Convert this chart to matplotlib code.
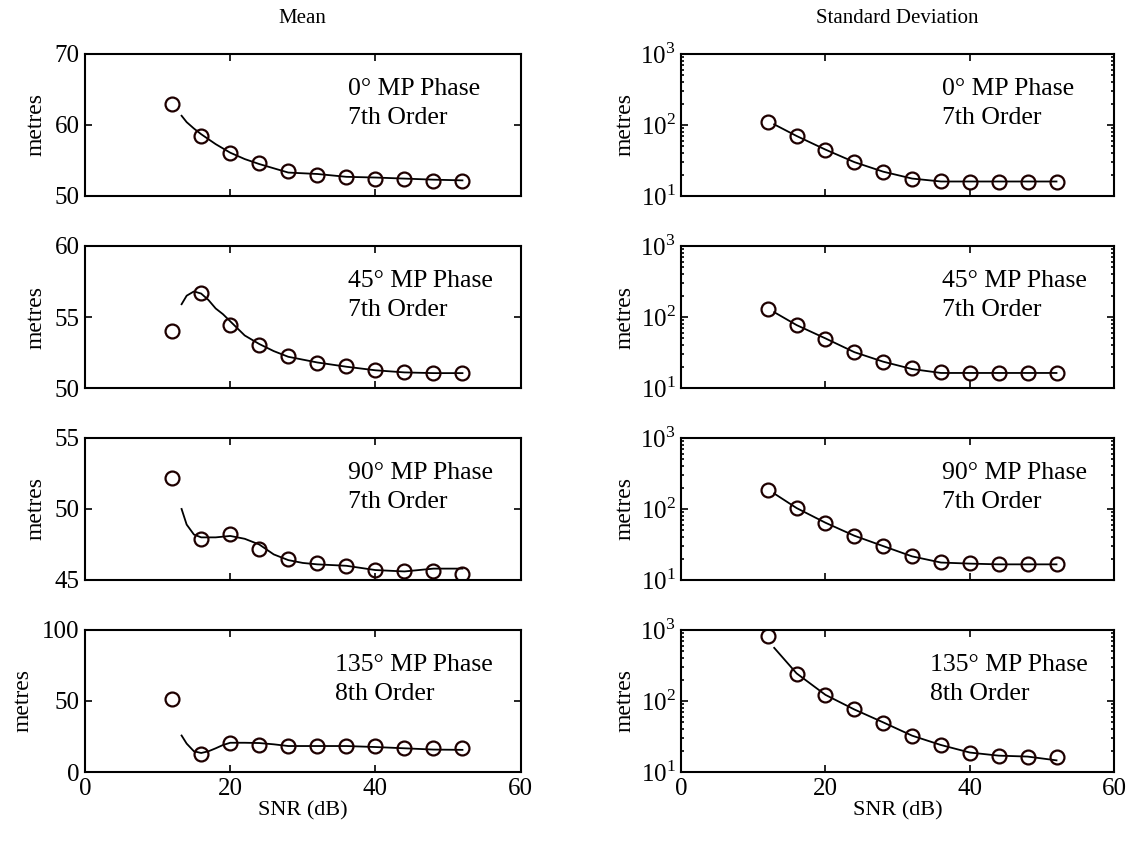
import matplotlib.pyplot as plt
import numpy as np

plt.rcParams['font.family'] = 'Liberation Serif'
plt.rcParams['mathtext.fontset'] = 'custom'
plt.rcParams['mathtext.rm'] = 'Liberation Serif'

# SNR points where the simulated results were taken
snr = [12, 16, 20, 24, 28, 32, 36, 40, 44, 48, 52]

labels = ["0\u00b0 MP Phase\n7th Order", "45\u00b0 MP Phase\n7th Order",
          "90\u00b0 MP Phase\n7th Order", "135\u00b0 MP Phase\n8th Order"]

# mean (simulated markers)
mean_0 = [62.9, 58.4, 56.1, 54.6, 53.5, 53.0, 52.7, 52.45, 52.45, 52.1, 52.1]
mean_45 = [54.0, 56.7, 54.45, 53.0, 52.25, 51.75, 51.55, 51.25, 51.15, 51.05, 51.05]
mean_90 = [52.2, 47.9, 48.25, 47.2, 46.5, 46.2, 46.0, 45.7, 45.6, 45.6, 45.45]
mean_135 = [51.6, 12.5, 20.4, 19.2, 18.3, 18.3, 18.3, 18.3, 17.0, 17.0, 17.0]

# mean (theory curves)
mline_x = [13.3, 14, 15, 16, 17, 18, 19, 20, 22, 24, 26, 28, 30, 32, 36, 40, 44, 48, 52]
mline_0 = [61.3, 60.4, 59.5, 58.7, 58.0, 57.3, 56.7, 56.1, 55.2, 54.5, 53.9, 53.3,
           53.2, 53.1, 52.7, 52.6, 52.45, 52.3, 52.2]
mline_45 = [55.9, 56.5, 56.8, 56.65, 56.2, 55.6, 55.2, 54.7, 53.7, 53.1, 52.6, 52.2,
            52.0, 51.8, 51.5, 51.25, 51.1, 51.05, 51.05]
mline_90 = [50.0, 48.9, 48.2, 48.0, 48.0, 48.0, 48.05, 48.1, 47.9, 47.5, 46.8, 46.4,
            46.2, 46.1, 46.0, 45.7, 45.6, 45.8, 45.8]
mline_135 = [25.7, 20.0, 14.6, 13.4, 14.6, 16.7, 19.0, 20.6, 20.6, 20.4, 19.5, 18.3,
             18.3, 18.3, 18.3, 17.6, 16.7, 15.8, 15.6]

# standard deviation (simulated markers)
std_0 = [110, 69, 44, 30, 21.7, 17.5, 16.2, 16.0, 16.0, 16.0, 16.0]
std_45 = [129, 76, 49.5, 31.7, 23, 19, 16.7, 16.3, 16.3, 16.3, 16.3]
std_90 = [187, 102, 63, 41.5, 30, 21.6, 17.9, 17.4, 16.6, 16.6, 16.6]
std_135 = [815, 242, 121, 76, 49.5, 32.3, 24, 18.6, 16.7, 16.2, 16.3]

# standard deviation (theory curves)
sline_x = [12.9, 16, 20, 24, 28, 32, 36, 40, 44, 48, 52]
sline_0 = [102, 70, 45, 30, 22, 17.6, 16.0, 16.0, 16.0, 16.0, 16.0]
sline_45 = [117, 77, 50, 32, 23.5, 18.5, 16.3, 16.3, 16.3, 16.3, 16.3]
sline_90 = [165, 103, 64, 42, 30, 21.5, 17.6, 17.0, 16.6, 16.6, 16.6]
sline_135 = [560, 245, 122, 76, 50, 32.5, 24, 18.8, 17.0, 16.5, 14.6]

means = [mean_0, mean_45, mean_90, mean_135]
mlines = [mline_0, mline_45, mline_90, mline_135]
stds = [std_0, std_45, std_90, std_135]
slines = [sline_0, sline_45, sline_90, sline_135]
mean_lims = [(50, 70), (50, 60), (45, 55), (0, 100)]
text_x = [36.2, 36.2, 36.2, 34.5]

fig = plt.figure(figsize=(11.37, 8.43), dpi=100)
bottoms = [0.7675, 0.5397, 0.312, 0.0842]
h = 0.1685


def style(ax):
    for s in ax.spines.values():
        s.set_linewidth(1.5)
    ax.tick_params(which='both', direction='in', top=True, right=True,
                   labelsize=18, pad=4, width=1.2)
    ax.tick_params(which='major', length=5)
    ax.tick_params(which='minor', length=2.5)
    ax.set_xlim(0, 60)
    ax.set_xticks([0, 20, 40, 60])


for i in range(4):
    # mean column
    ax = fig.add_axes([0.0748, bottoms[i], 0.383, h])
    ax.plot(mline_x, mlines[i], color='k', lw=1.3)
    ax.plot(snr, means[i], 'o', mfc='none', mec='#1e0000', mew=1.6, ms=10)
    lo, hi = mean_lims[i]
    ax.set_ylim(lo, hi)
    ax.set_yticks([lo, (lo + hi) / 2, hi])
    style(ax)
    ax.set_ylabel("metres", fontsize=17, labelpad=6)
    ax.text(text_x[i], 0.83 * (hi - lo) + lo, labels[i], fontsize=18.5,
            va='top', ha='left', linespacing=1.4)
    if i == 3:
        ax.set_xlabel("SNR (dB)", fontsize=16, labelpad=1)
    else:
        ax.set_xticklabels([])
    if i == 0:
        ax.set_title("Mean", fontsize=15, pad=22)

    # standard deviation column
    ax = fig.add_axes([0.599, bottoms[i], 0.381, h])
    ax.plot(sline_x, slines[i], color='k', lw=1.3)
    ax.plot(snr, stds[i], 'o', mfc='none', mec='#1e0000', mew=1.6, ms=10)
    ax.set_yscale('log')
    ax.set_ylim(10, 1000)
    ax.set_yticks([10, 100, 1000])
    ax.set_yticklabels(['$10^{1}$', '$10^{2}$', '$10^{3}$'])
    style(ax)
    ax.set_ylabel("metres", fontsize=17, labelpad=3)
    ax.text(text_x[i], 10 ** (1 + 0.83 * 2), labels[i], fontsize=18.5,
            va='top', ha='left', linespacing=1.4)
    if i == 3:
        ax.set_xlabel("SNR (dB)", fontsize=16, labelpad=1)
    else:
        ax.set_xticklabels([])
    if i == 0:
        ax.set_title("Standard Deviation", fontsize=15, pad=22)

fig.savefig("out.png", dpi=100)
